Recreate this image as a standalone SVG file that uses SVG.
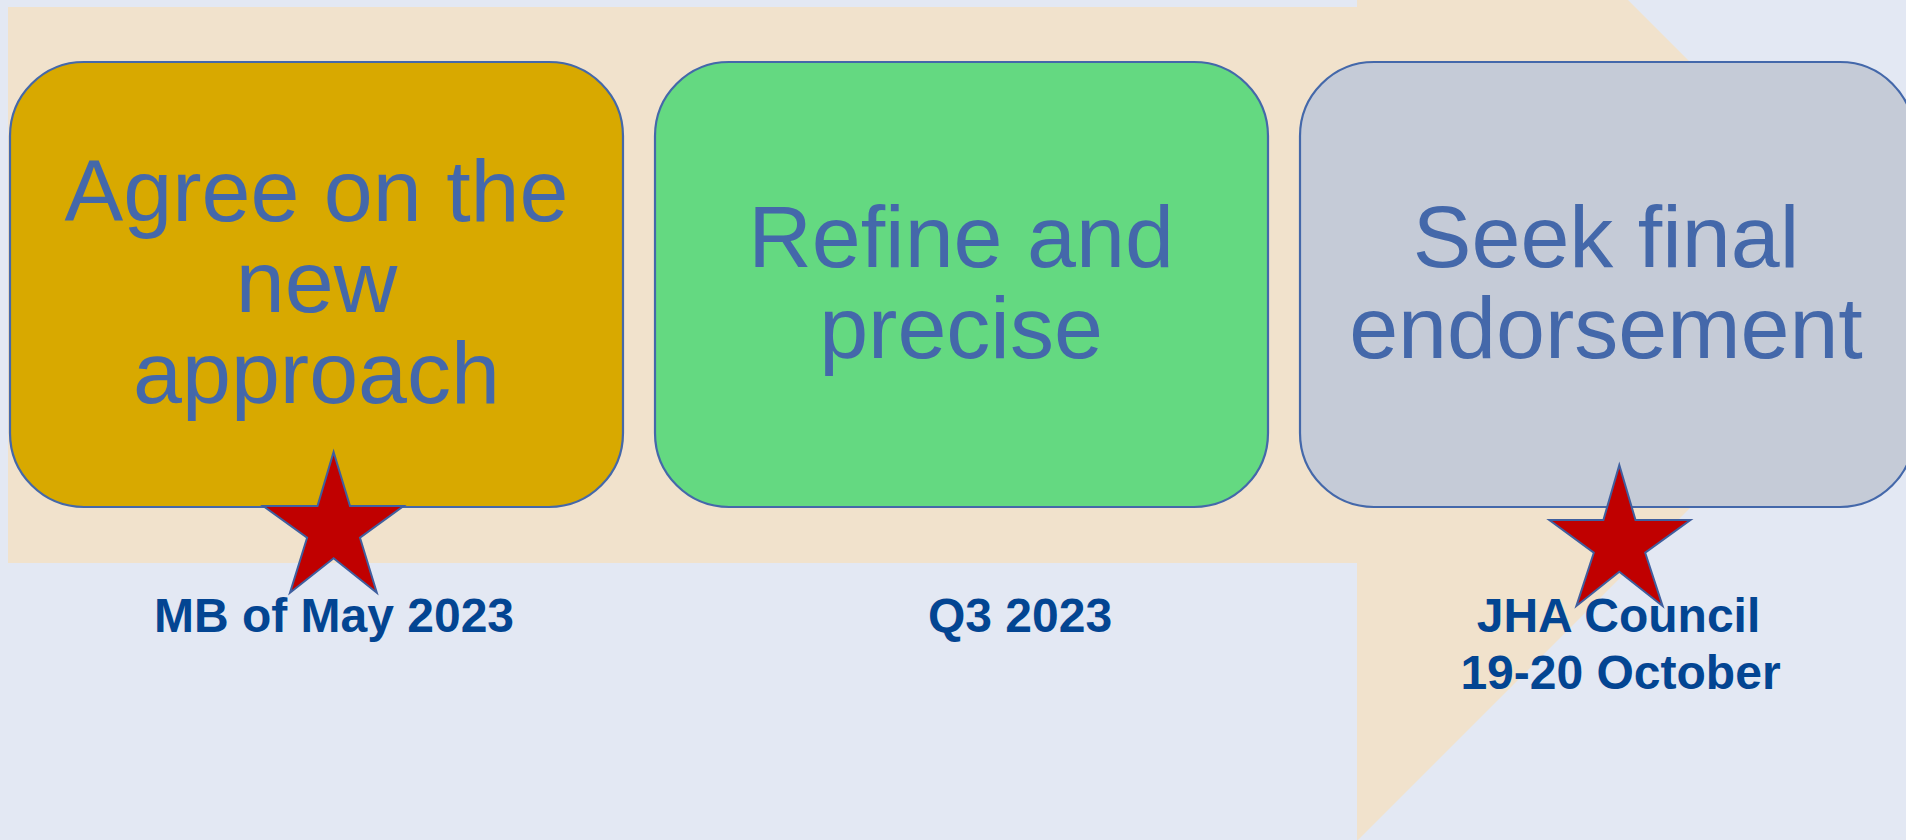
<svg xmlns="http://www.w3.org/2000/svg" width="1906" height="840" viewBox="0 0 1906 840">
<style>
.box{stroke:#4468AA;stroke-width:2.2}
.bt{font-family:"Liberation Sans",Arial,sans-serif;font-size:88px;fill:#4468AA;text-anchor:middle}
.lb{font-family:"Liberation Sans",Arial,sans-serif;font-size:48px;font-weight:bold;fill:#034592;text-anchor:middle}
.star{fill:#C00000;stroke:#3F5F9F;stroke-width:2;stroke-linejoin:miter}
</style>
<rect x="0" y="0" width="1906" height="840" fill="#E3E8F3"/>
<g id="timeline-arrow">
<polygon points="8,7 1357,7 1357,-271 1913,285 1357,841 1357,563 8,563" fill="#F1E2CC"/>
</g>
<g id="step1">
<rect class="box" x="10" y="62" width="613" height="445" rx="74" ry="74" fill="#D8A900"/>
<text class="bt" x="316.5" y="221">Agree on the</text>
<text class="bt" x="316.5" y="312">new</text>
<text class="bt" x="316.5" y="403">approach</text>
</g>
<g id="step2">
<rect class="box" x="655" y="62" width="613" height="445" rx="74" ry="74" fill="#64D981"/>
<text class="bt" x="961" y="267">Refine and</text>
<text class="bt" x="961" y="358">precise</text>
</g>
<g id="step3">
<rect class="box" x="1300" y="62" width="614" height="445" rx="74" ry="74" fill="#C5CBD7"/>
<text class="bt" x="1606" y="267">Seek final</text>
<text class="bt" x="1606" y="358">endorsement</text>
</g>
<g id="label1">
<text class="lb" x="334" y="632">MB of May 2023</text>
</g>
<g id="label2">
<text class="lb" x="1020" y="632">Q3 2023</text>
</g>
<g id="label3">
<text class="lb" x="1618.5" y="632">JHA Council</text>
<text class="lb" x="1620.5" y="689">19-20 October</text>
</g>
<g id="star1">
<polygon class="star" points="333.6,452 350,506 403.6,506 360,537.7 376.8,592.7 333.6,558.3 290,592.7 307.1,537.7 263.2,506 317.5,506"/>
</g>
<g id="star2">
<polygon class="star" points="1619.3,465 1635.5,520 1690.4,520 1645.2,552.7 1662.6,606 1619.3,571.7 1576.4,606 1593.8,552.7 1549.3,520 1603.4,520"/>
</g>
</svg>
